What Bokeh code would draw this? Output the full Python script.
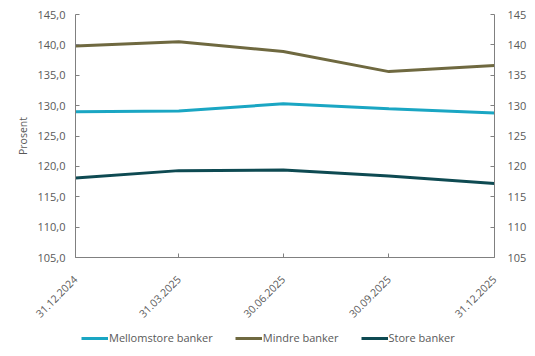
import datetime as dt
from bokeh.plotting import figure
from bokeh.layouts import column
from bokeh.models import LinearAxis, FixedTicker, Legend, LegendItem, Range1d
from bokeh.embed import file_html
from bokeh.resources import INLINE

dates = ["31.12.2024", "31.03.2025", "30.06.2025", "30.09.2025", "31.12.2025"]
mellomstore = [129.0, 129.1, 130.3, 129.5, 128.8]
mindre = [139.8, 140.5, 138.9, 135.6, 136.6]
store = [118.1, 119.3, 119.4, 118.4, 117.2]
y_ticks = [105, 110, 115, 120, 125, 130, 135, 140, 145]
series_names = ["Mellomstore banker", "Mindre banker", "Store banker"]
colors = ["#1AA6C3", "#6F6940", "#0E4A52"]

def to_ms(s):
    d = dt.datetime.strptime(s, "%d.%m.%Y")
    return (d - dt.datetime(1970, 1, 1)).total_seconds() * 1000.0

xs = [to_ms(s) for s in dates]

FONT = "Open Sans"
TXT = "#595959"
AX = "#808080"

p = figure(frame_width=419, frame_height=243, output_backend="svg", toolbar_location=None,
           x_range=Range1d(xs[0], xs[-1]), y_range=Range1d(105, 145),
           min_border_left=75, min_border_right=41, min_border_top=14, min_border_bottom=66)
p.outline_line_color = None
p.grid.visible = False
p.background_fill_color = "white"

for vals, c in zip([mellomstore, mindre, store], colors):
    p.line(xs, vals, line_color=c, line_width=3)

def style(ax):
    ax.axis_line_color = AX
    ax.major_tick_line_color = AX
    ax.minor_tick_line_color = None
    ax.major_tick_in = 4
    ax.major_tick_out = 0
    ax.major_label_text_font = FONT
    ax.major_label_text_font_size = "11px"
    ax.major_label_text_color = TXT

# x axis
xa = p.xaxis[0]
style(xa)
xa.ticker = FixedTicker(ticks=xs)
xa.major_label_overrides = {x: d for x, d in zip(xs, dates)}
xa.major_label_orientation = 0.785398
xa.major_label_text_font_size = "10.5px"
xa.major_label_standoff = 20

# left y
ya = p.yaxis[0]
style(ya)
ya.ticker = FixedTicker(ticks=y_ticks)
ya.major_label_overrides = {t: f"{t:.1f}".replace(".", ",") for t in y_ticks}
ya.major_label_standoff = 10
ya.axis_label = "Prosent"
ya.axis_label_text_font = FONT
ya.axis_label_text_font_size = "10.5px"
ya.axis_label_text_font_style = "normal"
ya.axis_label_text_color = TXT
ya.axis_label_standoff = 4

# right y
ra = LinearAxis()
style(ra)
ra.ticker = FixedTicker(ticks=y_ticks)
ra.major_label_overrides = {t: str(t) for t in y_ticks}
ra.major_label_standoff = 13
p.add_layout(ra, "right")

# legend strip below the chart
lg = figure(width=535, height=33, output_backend="svg", toolbar_location=None,
            x_range=Range1d(0, 1), y_range=Range1d(0, 1),
            min_border_left=0, min_border_right=0, min_border_top=0, min_border_bottom=0)
lg.axis.visible = False
lg.grid.visible = False
lg.outline_line_color = None
items = []
for name, c in zip(series_names, colors):
    r = lg.line([float("nan"), float("nan")], [float("nan"), float("nan")], line_color=c, line_width=3)
    items.append(LegendItem(label=name, renderers=[r]))
legend = Legend(items=items, orientation="horizontal", location=(6, 12),
                label_text_font=FONT, label_text_font_size="11px", label_text_color=TXT,
                glyph_width=27, glyph_height=12, label_standoff=1, spacing=22,
                border_line_color=None, background_fill_alpha=0, padding=0, margin=0)
lg.add_layout(legend, "center")

open("out.html", "w").write(file_html(column(p, lg, spacing=0), INLINE))
